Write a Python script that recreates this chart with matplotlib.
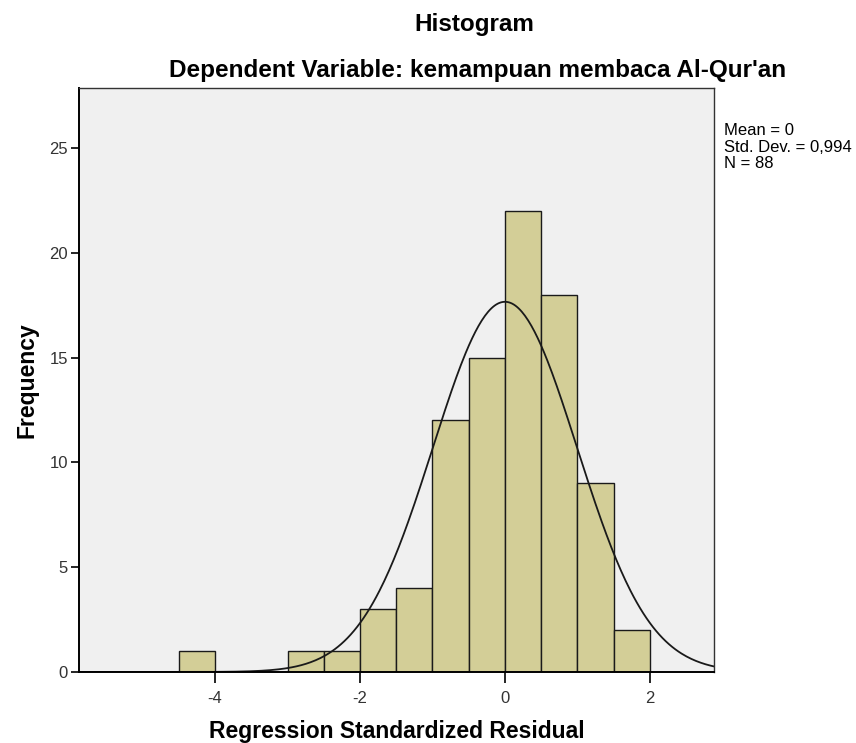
import numpy as np
import matplotlib
matplotlib.use("Agg")
import matplotlib.pyplot as plt

plt.rcParams['font.family'] = ['Liberation Sans', 'DejaVu Sans']
plt.rcParams['axes.unicode_minus'] = False

# histogram bins (left edges, width 0.5) and counts
bin_left = [-4.5, -4.0, -3.5, -3.0, -2.5, -2.0, -1.5, -1.0, -0.5, 0.0, 0.5, 1.0, 1.5]
counts = [1, 0, 0, 1, 1, 3, 4, 12, 15, 22, 18, 9, 2]
bin_width = 0.5
mean = 0.0
std = 0.994
n = 88

fig = plt.figure(figsize=(8.56, 7.43), dpi=100)
ax = fig.add_axes([0.0923, 0.0956, 0.7418, 0.786])
ax.set_facecolor('#f0f0f0')

ax.bar(bin_left, counts, width=bin_width, align='edge',
       color='#d3ce97', edgecolor='#1a1a1a', linewidth=1.0)

# normal curve scaled to counts
xs = np.linspace(-5.9, 2.9, 400)
ys = n * bin_width * np.exp(-0.5 * ((xs - mean) / std) ** 2) / (std * np.sqrt(2 * np.pi))
ax.plot(xs, ys, color='#1a1a1a', linewidth=1.3)

ax.set_xlim(-5.876, 2.883)
ax.set_ylim(0, 27.86)
ax.set_xticks([-4, -2, 0, 2])
ax.set_yticks([0, 5, 10, 15, 20, 25])
ax.tick_params(axis='x', direction='out', length=8, width=1.2, labelsize=12,
               pad=6, labelcolor='#333333')
ax.tick_params(axis='y', direction='out', length=6, width=1.2, labelsize=12,
               pad=2, labelcolor='#333333')
for side in ['left', 'bottom']:
    ax.spines[side].set_linewidth(1.4)
for side in ['top', 'right']:
    ax.spines[side].set_linewidth(1.0)
    ax.spines[side].set_color('#333333')

ax.set_xlabel('Regression Standardized Residual', fontsize=16.5, fontweight='bold', labelpad=10)
ax.set_ylabel('Frequency', fontsize=16.5, fontweight='bold', labelpad=8)

fig.text(0.554, 0.967, 'Histogram', ha='center', va='center', fontsize=17.5, fontweight='bold')
fig.text(0.558, 0.905, "Dependent Variable: kemampuan membaca Al-Qur'an",
         ha='center', va='center', fontsize=17.5, fontweight='bold')

fig.text(0.846, 0.834, 'Mean = 0\nStd. Dev. = 0,994\nN = 88', ha='left', va='top',
         fontsize=12, linespacing=1.12)

fig.savefig('out.png', dpi=100)
